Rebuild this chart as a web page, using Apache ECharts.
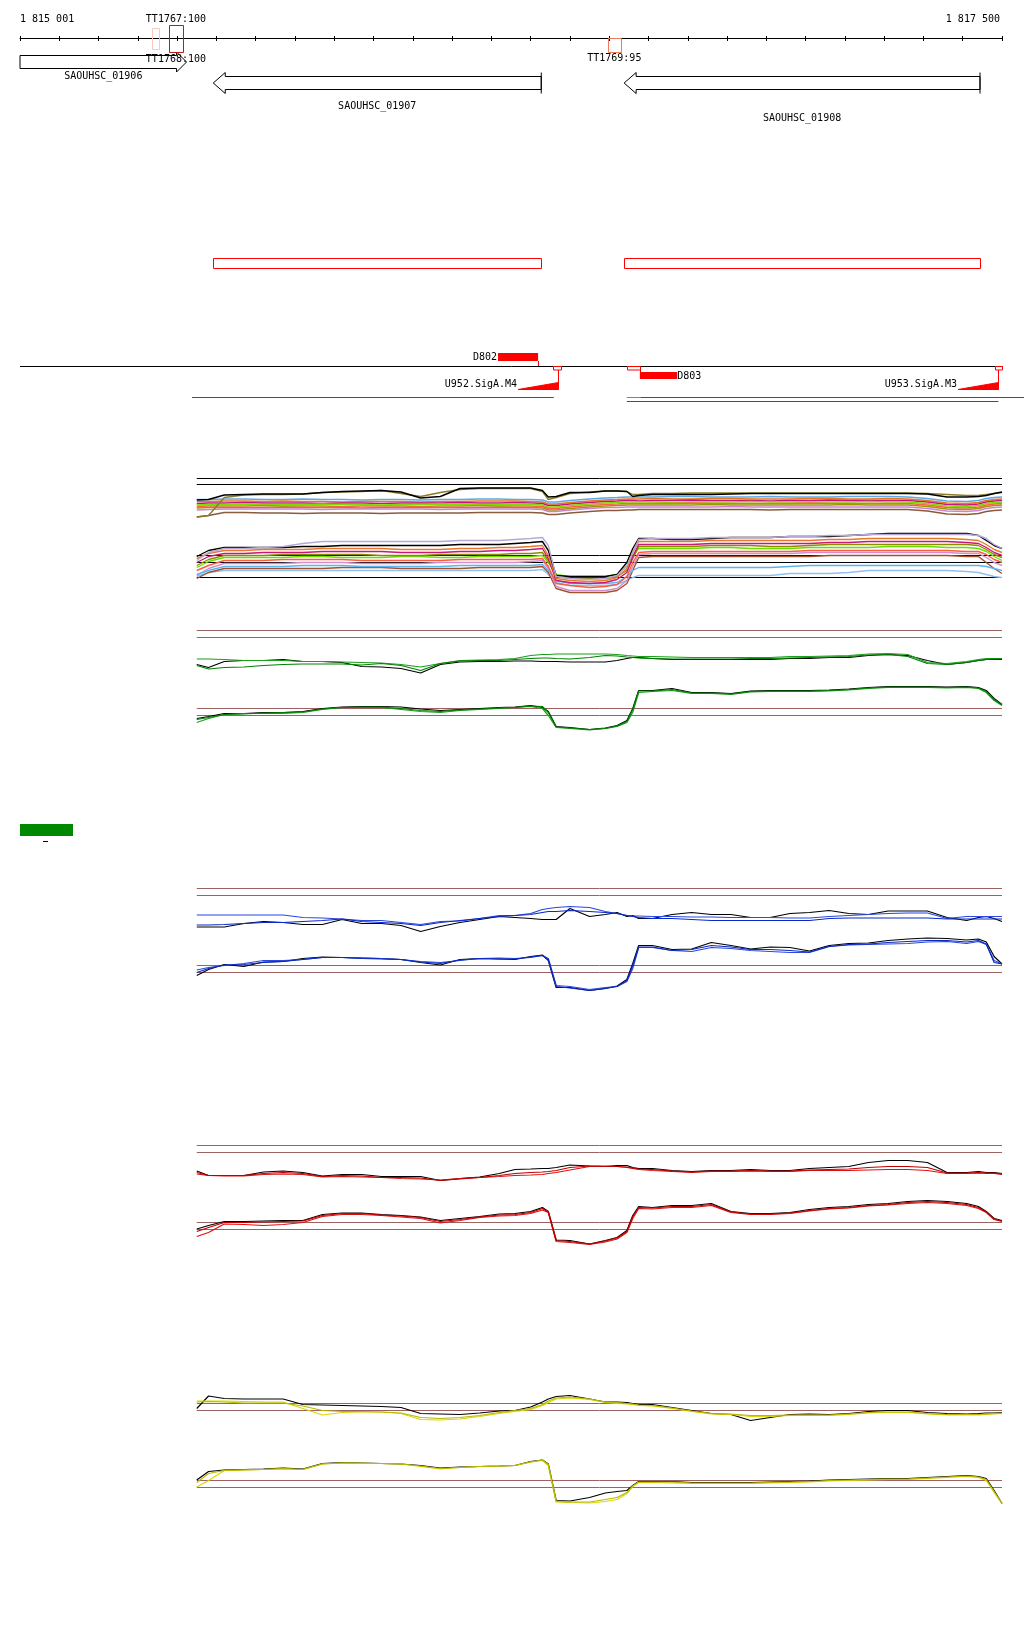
<!DOCTYPE html>
<html><head><meta charset="utf-8">
<script src="https://cdn.jsdelivr.net/npm/echarts@6/dist/echarts.min.js"></script>
<style>html,body{margin:0;padding:0;background:#fff}#c{width:1024px;height:1640px}</style>
</head><body><div id="c"></div>
<script>
// ---------------- DATA ----------------
const WIN = [1815000, 1817500];
const rulerLabels = ['1 815 001', '1 817 500'];

const geneNames = ['SAOUHSC_01906', 'SAOUHSC_01907', 'SAOUHSC_01908'];
const geneStart = [1815000, 1815492, 1816538];
const geneEnd = [1815424, 1816327, 1817444];
const geneStrand = ['+', '-', '-'];

const termNames = ['TT1767:100', 'TT1768:100', 'TT1769:95'];
const termStart = [1815379, 1815336, 1816497];
const termEnd = [1815414, 1815354, 1816530];
const termLabelAt = [1815397, 1815397, 1816513];

const unitStart = [1815492, 1816538];
const unitEnd = [1816327, 1817444];

const breakNames = ['D802', 'D803'];
const breakStart = [1816217, 1816578];
const breakEnd = [1816319, 1816673];

const promNames = ['U952.SigA.M4', 'U953.SigA.M3'];
const promFrom = [1816268, 1817388];
const promTSS = [1816370, 1817491];

const boxStart = [1816357, 1816545, 1817482];
const boxEnd = [1816377, 1816578, 1817500];

const txStart = [1815438, 1816545, 1816580, 1816545];
const txEnd = [1816359, 1816580, 1817561, 1817491];
const txLane = [0, 0, 0, 1];

// probe positions (bp)
const positions = [1815450,1815480,1815520,1815570,1815620,1815670,1815720,1815770,1815820,1815870,1815920,1815970,1816020,1816070,1816120,1816170,1816220,1816260,1816300,1816330,1816345,1816365,1816400,1816450,1816490,1816520,1816545,1816560,1816575,1816610,1816660,1816710,1816760,1816810,1816860,1816910,1816960,1817010,1817060,1817110,1817160,1817210,1817260,1817310,1817360,1817410,1817440,1817460,1817480,1817500];

// reference levels (log2 signal)
const refLevels = [12, 10.6];
const aPlusRef = [12, 10.8];
const aMinusRef = [12, 10.6, 7.6];

// Panel A: many conditions, plus strand
const aPlusTop = [7.7,7.8,8.7,8.8,8.9,8.9,8.9,9.2,9.4,9.5,9.6,9.3,8.1,8.4,10.0,10.1,10.1,10.1,10.1,9.6,8.3,8.4,9.2,9.2,9.5,9.5,9.4,8.4,8.6,8.8,8.8,8.8,8.8,8.9,9.0,9.0,9.0,9.0,9.0,9.0,9.0,9.0,9.0,8.9,8.3,8.3,8.4,8.6,9.0,9.3];
const aPlusOlive = [4.3,4.6,8.2,8.7,8.8,8.8,8.9,9.2,9.3,9.4,9.6,9.0,8.4,9.2,9.8,10.0,10.0,10.0,10.0,9.4,7.8,8.2,9.0,9.3,9.5,9.5,9.4,8.8,8.8,9.0,9.0,9.1,9.1,9.1,9.1,9.1,9.1,9.1,9.1,9.1,9.1,9.1,9.1,9.0,8.8,8.6,8.6,8.8,9.0,9.2];
const aPlusA = [7.8,7.8,7.9,7.9,7.8,7.8,7.9,7.8,7.8,7.7,7.8,7.8,7.7,7.8,7.8,7.9,7.9,7.8,7.8,7.7,7.3,7.3,7.6,7.9,8.1,8.2,8.3,8.3,8.3,8.3,8.4,8.4,8.3,8.3,8.3,8.4,8.3,8.3,8.3,8.4,8.4,8.4,8.3,8.0,7.5,7.4,7.6,8.0,8.2,8.3];
const aPlusB = [7.4,7.4,7.5,7.5,7.4,7.5,7.4,7.4,7.3,7.4,7.4,7.4,7.3,7.4,7.4,7.5,7.5,7.5,7.4,7.3,6.9,6.9,7.2,7.5,7.7,7.8,7.9,7.9,7.9,8.0,7.9,7.9,8.0,8.0,7.9,7.9,7.9,8.0,8.0,7.9,7.9,8.0,7.9,7.6,7.1,7.0,7.2,7.6,7.8,7.9];
const aPlusC = [7.0,7.1,7.1,7.2,7.1,7.1,7.1,7.0,7.1,7.1,7.0,7.1,7.1,7.1,7.2,7.1,7.1,7.2,7.1,7.0,6.6,6.6,6.9,7.2,7.4,7.5,7.6,7.6,7.5,7.6,7.6,7.7,7.6,7.6,7.6,7.5,7.6,7.6,7.7,7.6,7.6,7.6,7.6,7.3,6.8,6.7,6.9,7.3,7.5,7.6];
const aPlusD = [6.7,6.8,6.8,6.9,6.8,6.8,6.8,6.9,6.8,6.8,6.7,6.8,6.8,6.9,6.8,6.8,6.8,6.8,6.9,6.7,6.3,6.3,6.6,6.9,7.1,7.2,7.3,7.3,7.3,7.3,7.2,7.3,7.3,7.3,7.4,7.3,7.3,7.3,7.3,7.3,7.4,7.3,7.3,7.0,6.5,6.4,6.6,7.0,7.2,7.3];
const aPlusE = [6.4,6.5,6.5,6.5,6.6,6.5,6.5,6.5,6.4,6.5,6.5,6.5,6.4,6.5,6.5,6.6,6.5,6.5,6.5,6.4,6.0,6.0,6.3,6.6,6.8,6.9,7.0,7.0,7.0,7.0,7.0,7.1,7.0,7.0,7.0,7.0,7.0,7.1,7.0,7.0,7.0,7.0,7.0,6.7,6.2,6.1,6.3,6.7,6.9,7.0];
const aPlusF = [6.1,6.2,6.2,6.2,6.2,6.3,6.2,6.2,6.2,6.1,6.2,6.2,6.2,6.2,6.2,6.2,6.3,6.2,6.2,6.1,5.7,5.7,6.0,6.3,6.5,6.6,6.7,6.7,6.7,6.7,6.7,6.7,6.8,6.7,6.7,6.7,6.7,6.7,6.7,6.8,6.7,6.7,6.7,6.4,5.9,5.8,6.0,6.4,6.6,6.7];
const aPlusG = [5.7,5.8,5.9,5.9,5.9,5.9,5.9,5.8,5.9,5.9,5.9,5.9,5.9,5.8,5.9,5.9,5.9,5.9,5.9,5.8,5.4,5.4,5.7,6.0,6.2,6.2,6.3,6.3,6.3,6.3,6.3,6.3,6.3,6.4,6.3,6.3,6.3,6.3,6.3,6.3,6.3,6.3,6.3,6.0,5.5,5.4,5.6,6.0,6.2,6.3];
const aPlusH = [4.3,4.6,5.2,5.2,5.1,5.1,5.0,5.1,5.1,5.1,5.0,5.1,5.1,5.1,5.1,5.2,5.2,5.2,5.2,5.1,4.8,4.8,5.1,5.4,5.6,5.6,5.7,5.7,5.8,5.8,5.8,5.8,5.8,5.8,5.8,5.7,5.8,5.8,5.8,5.8,5.8,5.8,5.8,5.5,4.9,4.8,5.0,5.4,5.6,5.7];

// Panel A: many conditions, minus strand
const aMinus1 = [11.0,12.6,13.4,13.4,13.6,13.8,14.4,14.8,14.8,14.8,14.8,14.8,14.8,14.8,15.0,15.0,15.0,15.2,15.4,15.6,14.0,7.8,7.4,7.2,7.4,8.0,10.0,12.6,15.2,15.4,15.4,15.4,15.6,15.6,15.6,15.6,15.8,15.8,16.0,16.0,16.2,16.2,16.2,16.2,16.2,16.2,16.0,15.4,14.2,13.4];
const aMinus2 = [11.8,13.0,13.6,13.6,13.6,13.6,13.8,13.8,14.0,14.0,14.0,14.0,14.0,14.0,14.2,14.2,14.2,14.4,14.6,14.8,13.0,8.0,7.8,7.8,7.8,8.2,10.6,13.4,15.4,15.4,15.2,15.2,15.4,15.6,15.6,15.6,15.8,15.8,15.8,16.0,16.2,16.4,16.4,16.4,16.4,16.4,16.0,15.0,14.0,13.4];
const aMinus3 = [11.4,12.4,13.0,13.0,13.2,13.2,13.2,13.4,13.4,13.4,13.4,13.2,13.2,13.2,13.4,13.4,13.6,13.6,13.8,14.0,12.0,7.4,7.0,6.8,7.0,7.6,9.4,12.6,14.8,14.8,14.8,14.8,15.0,15.0,15.0,15.0,15.0,15.0,15.2,15.2,15.4,15.4,15.4,15.4,15.4,15.2,15.0,14.2,13.2,12.6];
const aMinus4 = [10.6,11.8,12.4,12.4,12.6,12.6,12.6,12.8,12.8,12.8,12.8,12.6,12.6,12.6,12.8,12.8,13.0,13.0,13.2,13.4,11.4,7.0,6.6,6.4,6.6,7.2,8.6,11.8,14.2,14.2,14.2,14.2,14.4,14.4,14.4,14.4,14.4,14.4,14.6,14.6,14.8,14.8,14.8,14.8,14.8,14.6,14.4,13.6,12.6,12.0];
const aMinus5 = [10.0,11.2,12.0,12.0,12.0,12.2,12.2,12.2,12.2,12.2,12.0,12.0,12.0,12.2,12.2,12.2,12.2,12.4,12.4,12.6,11.0,7.8,7.4,7.4,7.4,7.8,9.0,11.4,13.8,13.8,13.8,13.8,14.0,14.0,14.0,13.8,13.8,14.0,14.2,14.2,14.2,14.2,14.2,14.2,14.2,14.2,14.0,13.2,12.2,11.6];
const aMinus6 = [9.6,10.8,11.6,11.6,11.6,11.6,11.8,11.8,11.6,11.6,11.6,11.8,11.8,11.6,11.6,11.8,11.8,11.8,11.8,12.0,10.6,8.2,7.8,7.8,7.8,8.2,9.8,11.8,13.4,13.4,13.4,13.4,13.6,13.6,13.4,13.4,13.4,13.6,13.6,13.6,13.6,13.8,13.8,13.8,13.6,13.6,13.4,12.8,11.8,11.0];
const aMinus7 = [9.0,10.0,11.0,11.0,11.0,11.2,11.2,11.2,11.2,11.0,11.0,11.0,11.0,11.0,11.2,11.2,11.2,11.2,11.2,11.4,9.8,6.4,6.0,5.6,5.8,6.2,7.8,10.6,12.6,12.8,12.8,12.8,12.8,12.8,12.8,12.8,12.8,13.0,13.0,13.0,13.0,13.0,13.0,13.0,13.0,12.8,12.8,12.2,11.2,10.6];
const aMinus8 = [8.2,9.0,9.8,9.8,9.8,9.8,10.0,10.0,10.0,9.8,9.8,9.8,9.8,9.8,10.0,10.0,10.0,10.0,10.0,10.2,9.0,7.0,6.4,6.4,6.4,6.6,7.8,9.0,9.6,9.6,9.6,9.6,9.6,9.6,9.6,9.6,9.8,10.0,10.0,10.0,10.0,10.0,10.0,10.0,10.0,10.0,10.0,9.8,9.4,9.0];
const aMinus9 = [8.0,9.4,10.4,10.4,10.4,10.4,10.6,10.6,10.6,10.4,10.4,10.4,10.4,10.6,10.6,10.6,10.6,10.6,10.8,11.0,9.4,5.8,5.0,5.0,5.0,5.4,7.0,9.8,12.2,12.4,12.4,12.4,12.4,12.4,12.4,12.4,12.4,12.6,12.6,12.6,12.6,12.6,12.6,12.6,12.6,12.4,12.4,11.6,10.6,10.0];
const aMinus10 = [7.4,8.6,9.4,9.4,9.4,9.4,9.4,9.4,9.6,9.6,9.6,9.4,9.4,9.4,9.4,9.6,9.6,9.6,9.6,9.8,8.6,5.4,4.6,4.6,4.6,5.0,6.4,9.0,11.6,11.8,11.8,11.8,11.8,11.8,11.8,11.8,11.8,11.8,12.0,12.0,12.0,12.0,12.0,12.0,12.0,11.8,11.8,10.6,9.4,8.4];
const aMinus11 = [7.8,8.6,9.0,9.0,9.0,9.0,9.0,9.0,9.0,9.0,9.0,9.0,9.0,9.0,9.0,9.0,9.0,9.0,9.0,9.2,8.2,6.6,6.0,6.0,6.0,6.2,7.0,7.6,8.0,8.0,8.0,8.0,8.0,8.0,8.0,8.0,8.4,8.4,8.4,8.6,9.0,9.0,9.0,9.0,9.0,8.8,8.6,8.2,7.8,7.6];

// Panel B (green)
const bPlusBlack = [5.2,4.6,5.8,6.0,6.0,6.2,5.8,5.8,5.6,4.8,4.7,4.4,3.5,5.2,5.7,5.8,5.8,5.9,5.9,5.8,5.8,5.8,5.7,5.7,5.7,6.0,6.4,6.6,6.6,6.4,6.2,6.2,6.2,6.2,6.2,6.2,6.4,6.4,6.6,6.6,7.0,7.2,7.0,6.0,5.2,5.6,6.0,6.2,6.2,6.2];
const bPlusG1 = [6.3,6.3,6.2,6.0,6.0,6.0,5.8,5.8,5.7,5.6,5.5,5.2,4.7,5.4,6.0,6.1,6.2,6.4,7.0,7.2,7.2,7.3,7.3,7.3,7.3,7.2,7.0,6.9,6.8,6.8,6.7,6.6,6.6,6.6,6.6,6.6,6.8,6.8,6.9,7.0,7.3,7.4,7.2,5.6,5.4,5.8,6.2,6.4,6.4,6.4];
const bPlusG2 = [5.0,4.3,4.6,4.7,5.0,5.2,5.3,5.3,5.3,5.1,5.4,5.0,4.0,5.4,5.9,6.0,6.0,6.2,6.4,6.5,6.5,6.4,6.3,6.6,7.0,6.9,6.7,6.6,6.5,6.4,6.3,6.3,6.3,6.3,6.4,6.4,6.5,6.6,6.7,6.8,7.1,7.2,6.8,5.4,5.2,5.6,6.0,6.2,6.3,6.3];
const bMinusBlack = [10.0,10.4,11.0,11.0,11.2,11.2,11.4,12.0,12.3,12.4,12.4,12.3,11.9,11.6,11.8,12.0,12.2,12.3,12.6,12.2,11.4,8.4,8.2,7.8,8.1,8.6,9.6,12.0,15.6,15.6,16.0,15.2,15.2,15.0,15.5,15.6,15.6,15.6,15.7,15.9,16.2,16.4,16.4,16.4,16.3,16.4,16.2,15.6,14.0,12.8];
const bMinusG1 = [9.2,10.0,10.8,11.0,11.0,11.0,11.2,11.8,12.2,12.2,12.2,11.8,11.4,11.2,11.6,11.8,12.0,12.2,12.4,12.0,10.6,8.2,8.0,7.7,8.0,8.4,9.2,11.2,15.2,15.4,15.6,15.0,15.0,14.8,15.3,15.4,15.4,15.4,15.5,15.7,16.0,16.2,16.2,16.2,16.1,16.2,16.0,15.2,13.6,12.6];
const bMinusG2 = [9.8,10.2,10.8,10.9,11.1,11.2,11.3,11.9,12.2,12.3,12.3,12.0,11.6,11.4,11.7,11.9,12.1,12.2,12.5,12.4,11.2,8.3,8.1,7.8,8.0,8.5,9.4,11.8,15.5,15.5,15.8,15.1,15.1,14.9,15.4,15.5,15.5,15.5,15.6,15.8,16.1,16.3,16.3,16.3,16.2,16.3,16.1,15.4,13.8,12.7];

// Panel C (blue)
const cPlusBlack = [4.3,4.3,4.3,5.0,5.4,5.2,4.8,4.8,5.8,5.0,5.0,4.6,3.4,4.4,5.2,5.8,6.4,6.2,6.0,5.8,5.8,5.8,8.0,6.4,6.8,7.2,6.4,6.6,6.0,6.0,6.8,7.2,6.8,6.8,6.2,6.2,7.0,7.2,7.6,7.0,6.8,7.5,7.5,7.5,6.2,5.6,6.2,6.4,6.0,5.4];
const cPlusB1 = [6.7,6.7,6.7,6.7,6.7,6.7,6.2,6.1,5.9,5.6,5.6,5.2,4.8,5.4,5.5,6.0,6.6,6.6,7.0,7.8,8.0,8.2,8.4,8.2,7.4,7.0,6.6,6.5,6.5,6.4,6.4,6.3,6.3,6.2,6.2,6.2,6.1,6.1,6.4,6.6,6.8,7.0,7.1,7.1,6.0,6.4,6.4,6.4,6.4,6.4];
const cPlusB2 = [4.7,4.7,4.8,5.0,5.2,5.2,5.4,5.6,5.9,5.4,5.2,5.0,4.6,5.2,5.6,6.0,6.4,6.6,6.8,7.2,7.4,7.4,7.6,7.4,7.2,7.0,6.6,6.4,6.2,6.0,6.0,5.8,5.6,5.6,5.6,5.6,5.6,5.6,6.0,6.1,6.1,6.1,6.1,6.1,5.9,5.9,5.9,5.9,5.9,5.9];
const cMinusBlack = [10.0,11.2,12.2,11.8,12.7,12.8,13.4,13.7,13.6,13.5,13.4,13.2,12.6,12.1,13.2,13.4,13.3,13.2,13.8,14.1,13.0,7.6,7.6,7.0,7.4,7.9,9.2,12.4,16.0,16.0,15.2,15.3,16.6,16.0,15.3,15.7,15.6,14.9,16.0,16.4,16.5,17.0,17.3,17.5,17.4,17.1,17.3,16.7,13.8,12.3];
const cMinusB1 = [11.1,11.6,12.0,12.4,13.0,13.0,13.2,13.6,13.6,13.5,13.4,13.2,12.8,12.6,13.0,13.4,13.5,13.4,13.6,14.0,13.4,8.0,7.8,7.2,7.6,7.8,8.8,11.4,15.6,15.6,15.0,14.8,15.6,15.4,15.0,14.8,14.6,14.6,15.8,16.1,16.2,16.3,16.4,16.7,16.8,16.4,16.8,16.2,13.0,12.3];
const cMinusB2 = [10.6,11.4,12.1,12.2,12.6,12.8,13.2,13.6,13.6,13.4,13.3,13.2,12.7,12.4,13.1,13.4,13.3,13.3,13.7,14.0,13.2,7.8,7.5,7.0,7.4,7.8,9.0,12.0,15.7,15.7,15.0,15.2,16.0,15.7,15.2,15.2,15.0,14.7,15.8,16.2,16.3,16.6,16.8,17.0,17.0,16.7,17.0,16.3,12.6,12.3];

// Panel D (red)
const dPlusBlack = [6.9,6.0,6.0,6.0,6.7,6.9,6.6,5.9,6.2,6.2,5.8,5.8,5.8,5.0,5.4,5.7,6.4,7.2,7.3,7.4,7.4,7.6,8.1,7.9,7.8,8.0,8.0,7.6,7.4,7.4,7.0,6.8,7.0,7.0,7.2,7.0,7.0,7.4,7.6,7.8,8.6,9.0,9.0,8.6,6.6,6.6,6.8,6.6,6.6,6.4];
const dPlusR1 = [6.3,6.0,5.9,5.9,6.2,6.3,6.2,5.7,5.8,5.7,5.6,5.4,5.3,5.1,5.4,5.6,5.8,6.0,6.1,6.2,6.4,6.6,7.1,7.8,7.9,7.8,7.6,7.4,7.2,7.0,6.8,6.6,6.8,6.8,6.9,6.8,6.8,7.0,7.0,7.0,7.1,7.2,7.2,7.0,6.4,6.4,6.5,6.4,6.4,6.2];
const dPlusR2 = [6.6,6.0,6.0,6.0,6.4,6.6,6.4,5.8,6.0,5.9,5.6,5.6,5.5,5.0,5.3,5.6,6.0,6.4,6.6,6.7,6.8,7.0,7.6,7.9,7.8,7.8,7.7,7.5,7.3,7.2,6.9,6.7,6.9,6.9,7.0,6.9,6.9,7.1,7.2,7.3,7.6,7.8,7.8,7.6,6.5,6.5,6.6,6.5,6.5,6.3];
const dMinusBlack = [10.7,11.4,12.2,12.2,12.3,12.4,12.4,13.6,13.9,13.9,13.6,13.4,13.1,12.4,12.8,13.2,13.7,13.8,14.2,15.0,14.2,8.5,8.4,7.7,8.4,9.0,10.4,13.4,15.2,15.0,15.4,15.4,15.8,14.2,13.8,13.8,14.0,14.6,15.0,15.2,15.6,15.8,16.2,16.4,16.2,15.8,15.2,14.2,12.8,12.4];
const dMinusR1 = [9.2,10.0,11.7,11.6,11.4,11.6,12.0,13.2,13.6,13.6,13.4,13.1,12.8,11.9,12.4,13.0,13.3,13.4,13.8,14.5,14.0,8.2,8.0,7.6,8.1,8.7,10.0,12.8,14.8,14.7,15.0,15.0,15.4,14.0,13.6,13.6,13.8,14.3,14.7,14.9,15.3,15.5,15.8,16.0,15.8,15.4,14.8,14.0,12.6,12.2];
const dMinusR2 = [10.2,11.0,12.0,12.0,12.1,12.2,12.3,13.4,13.8,13.8,13.5,13.3,13.0,12.2,12.6,13.1,13.5,13.6,14.0,14.8,14.1,8.4,8.2,7.7,8.3,8.9,10.2,13.2,15.0,14.9,15.2,15.2,15.6,14.1,13.7,13.7,13.9,14.4,14.8,15.0,15.4,15.6,16.0,16.2,16.0,15.6,15.0,14.1,12.7,12.3];

// Panel E (yellow)
const ePlusBlack = [11.0,13.5,13.0,12.9,12.9,12.9,11.8,11.7,11.6,11.5,11.4,11.2,10.0,9.9,9.8,10.1,10.5,10.6,11.3,12.3,12.9,13.4,13.6,12.9,12.3,12.3,12.2,12.0,11.8,11.8,11.2,10.6,10.0,9.8,8.6,9.2,9.8,9.9,9.8,10.0,10.4,10.6,10.6,10.2,10.0,9.9,10.0,10.1,10.1,10.2];
const ePlusY1 = [12.5,12.5,12.5,12.4,12.3,12.3,11.0,9.7,10.2,10.3,10.3,10.0,8.8,8.7,8.9,9.4,10.0,10.4,10.8,11.6,12.2,12.9,13.1,12.8,12.2,12.0,11.9,11.8,11.6,11.5,11.0,10.4,9.9,9.8,9.4,9.4,9.6,9.6,9.6,9.8,10.1,10.2,10.2,9.9,9.7,9.7,9.7,9.8,9.9,10.0];
const ePlusY2 = [12.3,12.4,12.3,12.1,12.1,12.1,11.5,10.6,10.4,10.4,10.3,10.1,9.2,9.0,9.2,9.6,10.2,10.6,11.0,11.8,12.5,13.1,13.3,12.9,12.3,12.2,12.0,11.9,11.7,11.6,11.1,10.5,10.0,9.9,9.6,9.6,9.7,9.7,9.7,9.9,10.2,10.3,10.3,10.0,9.8,9.8,9.8,9.9,10.0,10.1];
const eMinusBlack = [12.1,13.8,14.1,14.2,14.3,14.5,14.3,15.4,15.6,15.5,15.4,15.3,15.0,14.5,14.7,14.8,14.9,15.0,15.8,16.1,15.3,8.0,7.9,8.6,9.5,9.8,10.0,11.0,11.8,11.8,11.8,11.6,11.6,11.6,11.6,11.7,11.8,11.9,12.1,12.2,12.3,12.4,12.4,12.6,12.8,13.0,12.8,12.4,10.0,7.4];
const eMinusY1 = [10.7,12.0,14.0,14.1,14.2,14.3,14.2,15.3,15.5,15.4,15.4,15.3,14.8,14.3,14.6,14.8,14.9,15.0,15.7,16.0,15.0,7.7,7.6,7.5,7.8,8.2,9.4,10.8,11.6,11.6,11.5,11.4,11.4,11.4,11.4,11.5,11.6,11.7,11.9,12.0,12.1,12.2,12.2,12.4,12.6,12.8,12.6,12.0,9.6,7.4];
const eMinusY2 = [11.6,13.4,14.0,14.1,14.2,14.4,14.2,15.3,15.5,15.5,15.4,15.3,14.9,14.4,14.6,14.8,14.9,15.0,15.7,16.1,15.2,7.8,7.7,7.7,8.2,8.6,9.6,10.9,11.7,11.7,11.7,11.5,11.5,11.5,11.5,11.6,11.7,11.8,12.0,12.1,12.2,12.3,12.3,12.5,12.7,12.9,12.7,12.2,9.8,7.4];

// ---------------- STYLE / LAYOUT ----------------
const FONT = '10px "DejaVu Sans Mono", "Liberation Mono", monospace';
const REF_BROWN = '#9c6262';
const geneLabelY = [76, 106, 118];
const termBox = [[25.5, 52.5], [28.5, 49.5], [38.5, 52.5]];
const termColor = ['#b0201c', '#f6cabc', '#f07a60'];
const termLabelY = [19, 59, 58];
const breakAbove = [true, false];
const txColor = ['#ff0000', '#00dd00', '#ff0000', '#ff0000'];
// panel grid tops [plus, minus]
const panelTops = [[448.5, 525.5], [600.5, 678.5], [858.5, 935.5], [1115.5, 1192.5], [1373.5, 1450.5]];
const GRID_H = 90;
const LINE_W = [1.4, 1.2, 1.2, 1.2, 1.2];

const panelSeries = [
  { plusRef: aPlusRef, minusRef: aMinusRef, refColor: '#000000',
    plus: [[aPlusA,'#5aa8e8'],[aPlusB,'#e07a20'],[aPlusC,'#c71585'],[aPlusD,'#7cdc00'],[aPlusE,'#ff6347'],[aPlusF,'#9a9a00'],[aPlusG,'#d080d0'],[aPlusH,'#8b5a3c'],[aPlusOlive,'#8b7a2a'],[aPlusTop,'#000000']],
    minus: [[aMinus11,'#90c0f0'],[aMinus10,'#a0522d'],[aMinus9,'#d090d0'],[aMinus8,'#5ab4f0'],[aMinus7,'#ff5a3c'],[aMinus6,'#66e000'],[aMinus5,'#8c8c00'],[aMinus4,'#c8187a'],[aMinus3,'#e8782a'],[aMinus2,'#000000'],[aMinus1,'#b8a8d8']] },
  { plusRef: refLevels, minusRef: refLevels, refColor: REF_BROWN,
    plus: [[bPlusBlack,'#000000'],[bPlusG1,'#1aa01a'],[bPlusG2,'#008000']],
    minus: [[bMinusBlack,'#000000'],[bMinusG1,'#1aa01a'],[bMinusG2,'#008000']] },
  { plusRef: refLevels, minusRef: refLevels, refColor: REF_BROWN,
    plus: [[cPlusBlack,'#000000'],[cPlusB1,'#2a48e0'],[cPlusB2,'#0a28c8']],
    minus: [[cMinusBlack,'#000000'],[cMinusB1,'#2a48e0'],[cMinusB2,'#0a28c8']] },
  { plusRef: refLevels, minusRef: refLevels, refColor: REF_BROWN,
    plus: [[dPlusBlack,'#000000'],[dPlusR1,'#e01010'],[dPlusR2,'#c00000']],
    minus: [[dMinusBlack,'#000000'],[dMinusR1,'#e01010'],[dMinusR2,'#c00000']] },
  { plusRef: refLevels, minusRef: refLevels, refColor: REF_BROWN,
    plus: [[ePlusBlack,'#000000'],[ePlusY1,'#d8d800'],[ePlusY2,'#b8b800']],
    minus: [[eMinusBlack,'#000000'],[eMinusY1,'#d8d800'],[eMinusY2,'#b8b800']] }
];

// ---------------- CHART ----------------
const chart = echarts.init(document.getElementById('c'), null, { renderer: 'canvas' });

const grids = [{ left: 20, width: 982, top: 0, height: 38 }];
const xAxes = [
  { gridIndex: 0, type: 'value', min: WIN[0], max: WIN[1], interval: 100, position: 'bottom',
    axisLine: { show: true, onZero: false, lineStyle: { color: '#000', width: 1 } },
    axisTick: { show: true, inside: false, length: 3, lineStyle: { color: '#000' } },
    axisLabel: { show: false }, splitLine: { show: false } },
  { gridIndex: 0, type: 'value', min: WIN[0], max: WIN[1], interval: 100, position: 'bottom',
    axisLine: { show: false, onZero: false },
    axisTick: { show: true, inside: true, length: 2, lineStyle: { color: '#000' } },
    axisLabel: { show: false }, splitLine: { show: false } }
];
const yAxes = [{ gridIndex: 0, type: 'value', min: 0, max: 1, show: false }];
const series = [];

panelTops.forEach((tops, p) => {
  tops.forEach((top, s) => {
    const g = grids.length;
    grids.push({ left: 20, width: 982, top: top, height: GRID_H });
    xAxes.push({ gridIndex: g, type: 'value', min: WIN[0], max: WIN[1], show: false });
    yAxes.push({ gridIndex: g, type: 'value', min: 0, max: 18, show: false });
    const P = panelSeries[p];
    const refs = s === 0 ? P.plusRef : P.minusRef;
    refs.forEach(v => series.push({
      type: 'line', xAxisIndex: g + 1, yAxisIndex: g, silent: true, showSymbol: false, z: 1,
      data: [[positions[0], v], [WIN[1], v]], lineStyle: { color: P.refColor, width: 1 }
    }));
    const lines = s === 0 ? P.plus : P.minus;
    lines.forEach(([arr, col], k) => series.push({
      type: 'line', xAxisIndex: g + 1, yAxisIndex: g, silent: true, showSymbol: false, z: 2 + k,
      clip: false,
      data: positions.map((x, i) => [x, arr[i]]), lineStyle: { color: col, width: LINE_W[p] }
    }));
  });
});

function txt(t, x, y, align) {
  return { type: 'text', style: { text: t, x: x, y: y, font: FONT, fill: '#000',
    align: align, textAlign: align, verticalAlign: 'middle', textVerticalAlign: 'middle' } };
}

function renderAnnot(params, api) {
  const X = v => api.coord([v, 0])[0];
  const ch = [];
  // genes
  geneNames.forEach((n, i) => {
    const x1 = X(geneStart[i]), x2 = X(geneEnd[i]);
    const plus = geneStrand[i] === '+';
    const cy = plus ? 62 : 83, hb = 6.5, hh = plus ? 10 : 10.5, head = plus ? 10 : 12;
    let pts;
    if (plus) pts = [[x1, cy - hb], [x2 - head, cy - hb], [x2 - head, cy - hh], [x2, cy], [x2 - head, cy + hh], [x2 - head, cy + hb], [x1, cy + hb]];
    else pts = [[x2, cy - hb], [x1 + head, cy - hb], [x1 + head, cy - hh], [x1, cy], [x1 + head, cy + hh], [x1 + head, cy + hb], [x2, cy + hb]];
    ch.push({ type: 'polygon', shape: { points: pts }, style: { fill: '#fff', stroke: '#000', lineWidth: 1 } });
    if (!plus) ch.push({ type: 'line', shape: { x1: x2, y1: cy - hh, x2: x2, y2: cy + hh }, style: { stroke: '#000', lineWidth: 1 } });
    ch.push(txt(n, (x1 + x2) / 2, geneLabelY[i], 'center'));
  });
  // terminators
  termNames.forEach((n, i) => {
    const x1 = X(termStart[i]), x2 = X(termEnd[i]);
    ch.push({ type: 'rect', shape: { x: Math.round(x1) + 0.5, y: termBox[i][0], width: Math.round(x2 - x1), height: termBox[i][1] - termBox[i][0] },
      style: { fill: 'none', stroke: termColor[i], lineWidth: 1 } });
    ch.push(txt(n, X(termLabelAt[i]), termLabelY[i], 'center'));
  });
  // transcription units
  unitStart.forEach((s, i) => {
    const x1 = X(s), x2 = X(unitEnd[i]);
    ch.push({ type: 'rect', shape: { x: Math.round(x1) + 0.5, y: 258.5, width: Math.round(x2 - x1), height: 10 },
      style: { fill: 'none', stroke: '#ff0000', lineWidth: 1 } });
  });
  // baseline
  ch.push({ type: 'line', shape: { x1: X(WIN[0]), y1: 366.5, x2: X(WIN[1]) + 1, y2: 366.5 }, style: { stroke: '#000', lineWidth: 1 } });
  // boxes
  boxStart.forEach((s, i) => {
    const x1 = X(s), x2 = X(boxEnd[i]);
    ch.push({ type: 'rect', shape: { x: Math.round(x1) + 0.5, y: 366.5, width: Math.round(x2 - x1), height: 3.5 },
      style: { fill: '#fff', stroke: '#ff0000', lineWidth: 1 } });
  });
  // breakpoints
  breakNames.forEach((n, i) => {
    const x1 = X(breakStart[i]), x2 = X(breakEnd[i]);
    if (breakAbove[i]) {
      ch.push({ type: 'rect', shape: { x: x1, y: 353, width: x2 - x1, height: 8 }, style: { fill: '#ff0000' } });
      ch.push({ type: 'line', shape: { x1: Math.round(x2) + 0.5, y1: 361, x2: Math.round(x2) + 0.5, y2: 366 }, style: { stroke: '#ff0000', lineWidth: 1 } });
      ch.push(txt(n, x1 - 1, 357.5, 'right'));
    } else {
      ch.push({ type: 'rect', shape: { x: x1, y: 372, width: x2 - x1, height: 7 }, style: { fill: '#ff0000' } });
      ch.push({ type: 'line', shape: { x1: Math.round(x1) + 0.5, y1: 370, x2: Math.round(x1) + 0.5, y2: 372 }, style: { stroke: '#ff0000', lineWidth: 1 } });
      ch.push(txt(n, x2, 376, 'left'));
    }
  });
  // promoters
  promNames.forEach((n, i) => {
    const xf = X(promFrom[i]), xt = Math.round(X(promTSS[i])) + 0.5;
    ch.push({ type: 'polygon', shape: { points: [[xf, 389.5], [xt, 382.5], [xt, 389.5]] }, style: { fill: '#ff0000', stroke: '#ff0000', lineWidth: 1 } });
    ch.push({ type: 'line', shape: { x1: xt, y1: 370, x2: xt, y2: 389.5 }, style: { stroke: '#ff0000', lineWidth: 1 } });
    ch.push(txt(n, xf - 1, 384, 'right'));
  });
  // transcripts
  txStart.forEach((s, i) => {
    const y = 397.5 + txLane[i] * 4;
    ch.push({ type: 'line', shape: { x1: X(s), y1: y, x2: X(txEnd[i]), y2: y }, style: { stroke: txColor[i], lineWidth: 1 } });
  });
  return { type: 'group', children: ch };
}

series.push({
  type: 'custom', xAxisIndex: 0, yAxisIndex: 0, clip: false, silent: true, z: 10,
  data: [[WIN[0], WIN[1]]], encode: { x: [0, 1] },
  renderItem: renderAnnot
});

chart.setOption({
  animation: false,
  backgroundColor: '#ffffff',
  grid: grids, xAxis: xAxes, yAxis: yAxes, series: series,
  graphic: [
    { type: 'text', left: 20, top: 14, style: { text: rulerLabels[0], font: FONT, fill: '#000' } },
    { type: 'text', right: 24, top: 14, style: { text: rulerLabels[1], font: FONT, fill: '#000' } },
    { type: 'rect', left: 20, top: 824, shape: { width: 53, height: 12 }, style: { fill: '#008800' } },
    { type: 'rect', left: 43, top: 841, shape: { width: 5, height: 1 }, style: { fill: '#000' } }
  ]
});
</script>
</body></html>
